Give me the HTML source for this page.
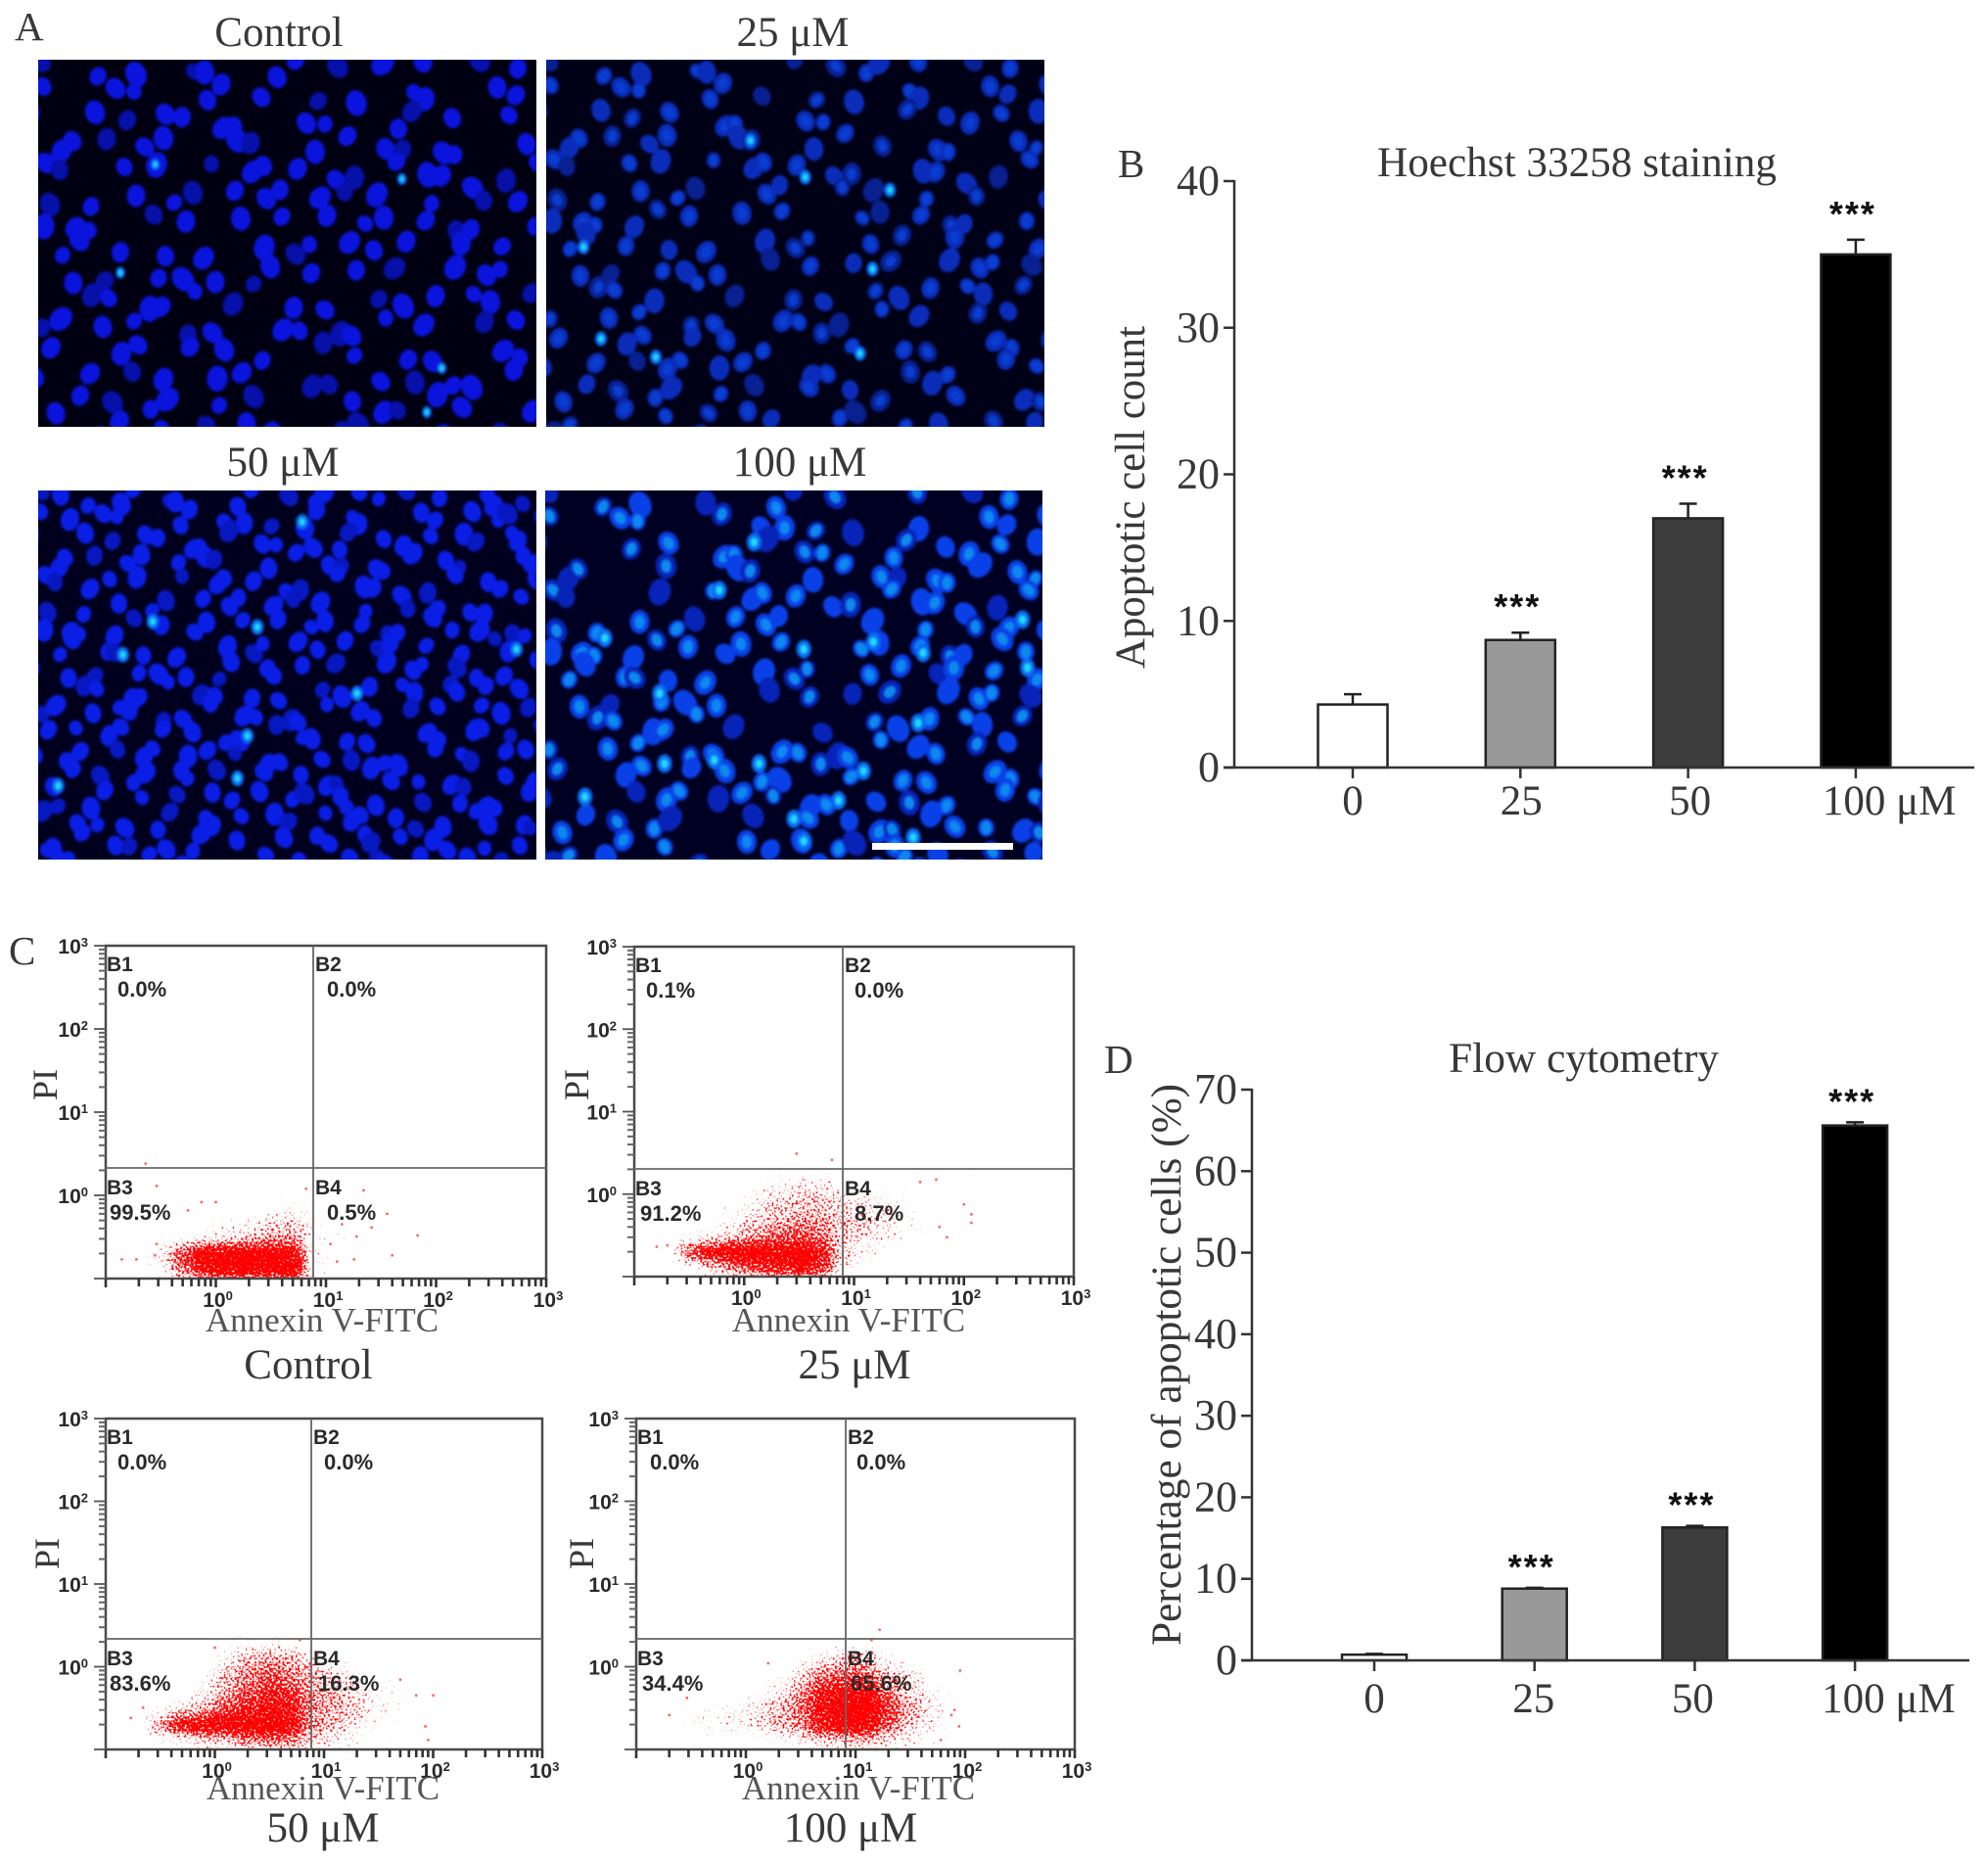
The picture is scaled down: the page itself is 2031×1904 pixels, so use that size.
<!DOCTYPE html>
<html lang="en">
<head>
<meta charset="utf-8">
<title>Apoptosis figure</title>
<style>
html,body{margin:0;padding:0;background:#fff;}
svg{display:block;}
.serif{font-family:"Liberation Serif",serif;fill:#383838;}
.sans{font-family:"Liberation Sans",sans-serif;font-weight:bold;fill:#2a2a2a;}
</style>
</head>
<body>
<svg id="figure" xmlns="http://www.w3.org/2000/svg" width="2031" height="1904" viewBox="0 0 2031 1904">
<defs>
<filter id="soft" x="-5%" y="-5%" width="110%" height="110%" color-interpolation-filters="sRGB"><feGaussianBlur stdDeviation="1.3"/></filter>
<filter id="speckle" x="-20%" y="-30%" width="140%" height="160%" color-interpolation-filters="sRGB">
<feGaussianBlur in="SourceAlpha" stdDeviation="6" result="b0"/>
<feComponentTransfer in="b0" result="b"><feFuncA type="gamma" amplitude="1" exponent="0.7" offset="0"/></feComponentTransfer>
<feTurbulence type="fractalNoise" baseFrequency="0.45" numOctaves="1" seed="7" result="t"/>
<feColorMatrix in="t" type="matrix" values="0 0 0 0 0 0 0 0 0 0 0 0 0 0 0 1 0 0 0 0" result="n"/>
<feComposite in="b" in2="n" operator="arithmetic" k1="0" k2="3.8" k3="6" k4="-4.9" result="m"/>
<feFlood flood-color="#ff0000" result="f"/>
<feComposite in="f" in2="m" operator="in"/>
</filter>
</defs>
<rect x="0" y="0" width="2031" height="1904" fill="#fff"/>

<text class="serif" x="15" y="41" font-size="41">A</text>
<text class="serif" x="1142" y="181" font-size="41">B</text>
<text class="serif" x="9" y="985" font-size="41">C</text>
<text class="serif" x="1128" y="1096" font-size="41">D</text>

<text class="serif" x="285" y="47" font-size="43" text-anchor="middle">Control</text>
<text class="serif" x="810" y="47" font-size="43" text-anchor="middle">25 μM</text>
<text class="serif" x="289" y="486" font-size="43" text-anchor="middle">50 μM</text>
<text class="serif" x="817" y="486" font-size="43" text-anchor="middle">100 μM</text>

<g id="micrographs"></g>
<rect x="891" y="861" width="144" height="7" fill="#fff"/>

<g id="flow"></g>
<g id="hoechst"></g>
<g id="flowbars"></g>
</svg>

<script>
/* ---------- Bar chart data ---------- */
const barCategories = ['0', '25', '50', '100 μM'];
const hoechstValues = [4.3, 8.7, 17, 35];
const hoechstErrors = [0.7, 0.5, 1, 1];
const hoechstTicks = [0, 10, 20, 30, 40];
const hoechstStars = ['', '***', '***', '***'];
const flowValues = [0.7, 8.8, 16.3, 65.6];
const flowErrors = [0.1, 0.1, 0.2, 0.4];
const flowTicks = [0, 10, 20, 30, 40, 50, 60, 70];
const flowStars = ['', '***', '***', '***'];
const barFills = ['#ffffff', '#999999', '#3d3d3d', '#000000'];

/* ---------- Flow cytometry data ---------- */
const annexinBins = [0.126, 0.2, 0.32, 0.5, 0.8, 1.26, 2, 3.2, 5, 8, 12.6, 20, 32, 50, 80, 126];
const piBins = [2, 1.26, 0.8, 0.5, 0.32, 0.2, 0.126];
const decadeTicks = [0.1, 1, 10, 100, 1000];
const decadeExponents = ['-1', '0', '1', '2', '3'];

const densityControl = [
 [0,0,0,0,0,0,0,0,0,0,0,0,0,0,0,0],
 [0,0,0,0,0,0,0,0,0,0,0,0,0,0,0,0],
 [0,0,0,0,0,0,0,0,.1,.1,0,0,0,0,0,0],
 [0,0,0,0,.06,.08,.14,.26,.28,.14,.06,0,0,0,0,0],
 [0,0,0,.08,.14,.22,.32,.42,.42,.16,.06,.04,0,0,0,0],
 [0,0,.25,.65,1,1,1,1,.9,.14,.04,0,0,0,0,0],
 [0,0,.12,.55,.85,1,1,1,1,.16,0,0,0,0,0,0]];
const densityDose25 = [
 [0,0,0,0,0,0,0,.05,.06,0,0,0,0,0,0,0],
 [0,0,0,0,0,.1,.18,.25,.25,.14,.04,0,0,0,0,0],
 [0,0,0,0,.07,.22,.33,.36,.36,.3,.24,.18,.07,0,0,0],
 [0,0,0,.06,.16,.3,.38,.42,.42,.36,.3,.24,.14,.05,0,0],
 [0,0,.08,.14,.3,.4,.55,.62,.52,.34,.28,.22,.12,.04,0,0],
 [0,.1,.65,.9,1,1,1,1,.8,.32,.18,.07,0,0,0,0],
 [0,0,.08,.3,.5,.65,.8,.9,.75,.22,.07,0,0,0,0,0]];
const densityDose50 = [
 [0,0,0,0,0,.04,.08,.14,.08,0,0,0,0,0,0,0],
 [0,0,0,0,0,.18,.38,.42,.38,.24,.08,0,0,0,0,0],
 [0,0,0,0,.08,.38,.5,.6,.5,.42,.28,.14,.05,0,0,0],
 [0,0,0,.05,.24,.4,.6,.75,.65,.46,.38,.28,.14,.07,0,0],
 [0,0,.08,.24,.35,.6,.75,.85,.8,.48,.42,.32,.18,.1,.03,0],
 [0,.08,.5,.85,1,1,1,1,.9,.48,.36,.24,.1,.05,0,0],
 [0,0,.08,.18,.28,.3,.5,.55,.5,.3,.2,.1,.03,0,0,0]];
const densityDose100 = [
 [0,0,0,0,0,0,0,0,0,.03,.06,0,0,0,0,0],
 [0,0,0,0,0,0,0,.08,.22,.34,.34,.18,.04,0,0,0],
 [0,0,0,0,0,.04,.1,.3,.5,.6,.55,.35,.24,.04,0,0],
 [0,0,0,0,.03,.1,.22,.45,.8,.9,.9,.5,.3,.18,.03,0],
 [0,0,.07,.1,.14,.22,.38,.55,.85,1,1,.7,.4,.24,.07,0],
 [0,0,.14,.18,.24,.3,.42,.5,.85,1,.95,.6,.35,.2,.04,0],
 [0,0,0,0,0,.03,.1,.2,.3,.35,.35,.25,.16,.1,0,0]];

const outlierAnnexinControl = [0.23,0.29,0.14,0.19,0.28,0.74,1,0.56,0.29,22,36,68,40,12.6,18,11,19,26,14,6.6];
const outlierPIControl = [2.4,1.3,0.17,0.17,0.19,0.83,0.83,0.66,0.26,1.15,0.6,0.33,0.19,0.16,0.17,0.26,0.32,0.41,0.45,1.2];
const outlierAnnexin25 = [117,117,3,6.3,56,0.32,0.2,0.16,100,70,60,40];
const outlierPI25 = [0.45,0.57,3.1,2.6,1.5,0.53,0.24,0.23,0.75,0.3,0.4,1.4];
const outlierAnnexin50 = [100,85,0.22,50,0.17,90,70,0.34,1,6];
const outlierPI50 = [0.45,0.19,0.32,0.7,0.24,0.13,0.45,0.6,1.7,2.1];
const outlierAnnexin100 = [16.6,90,0.2,88,75,60,0.29,1.6,14,80];
const outlierPI100 = [2.8,0.9,0.26,0.19,0.26,0.13,0.42,1.1,2.1,0.3];

const flowPanelNames = ['control', 'dose-25', 'dose-50', 'dose-100'];
const flowDensities = [densityControl, densityDose25, densityDose50, densityDose100];
const flowOutlierAnnexin = [outlierAnnexinControl, outlierAnnexin25, outlierAnnexin50, outlierAnnexin100];
const flowOutlierPI = [outlierPIControl, outlierPI25, outlierPI50, outlierPI100];
const flowPct = [['0.0%','0.0%','99.5%','0.5%'],['0.1%','0.0%','91.2%','8.7%'],['0.0%','0.0%','83.6%','16.3%'],['0.0%','0.0%','34.4%','65.6%']];
const quadrantNames = ['B1','B2','B3','B4'];
const flowCaptions = ['Control','25 μM','50 μM','100 μM'];

/* ---------- Micrograph brightness maps (coarse) ---------- */
const mapControl = [[6,7,7,6,7,6,7,6],[7,7,6,7,7,8,6,6],[6,6,7,7,8,6,7,7],[7,7,7,7,7,6,7,6],[7,7,7,6,6,7,6,7],[8,8,6,7,5,7,7,6]];
const map25 = [[6,6,6,5,6,7,6,6],[6,7,6,7,7,5,7,6],[6,7,6,6,5,5,7,6],[7,6,7,5,6,6,7,7],[6,7,7,6,6,6,5,6],[7,8,6,6,6,5,6,6]];
const map50 = [[8,8,8,8,9,8,7,8],[8,8,8,8,8,8,8,8],[8,8,8,8,8,9,8,9],[8,8,9,8,8,8,8,8],[9,8,8,8,8,8,8,8],[9,9,8,8,9,9,8,8]];
const map100 = [[5,6,4,8,5,3,6,7],[4,3,7,8,7,8,8,8],[8,7,8,8,3,7,8,9],[7,8,7,4,5,8,8,7],[5,7,8,8,8,7,8,7],[8,8,4,7,9,9,6,8]];
const brightControlX = [.235,.165,.73,.81,.78], brightControlY = [.285,.58,.325,.84,.96];
const bright25X = [.69,.41,.52,.11,.22,.63,.075,.655], bright25Y = [.355,.22,.32,.76,.81,.8,.51,.57];
const bright50X = [.44,.23,.53,.96,.04,.64,.40,.42,.17], bright50Y = [.37,.355,.085,.43,.8,.55,.78,.665,.445];
const bright100X = [.52,.66,.35,.76,.97,.24,.43,.34,.5,.64,.75,.12,.23,.08,.42,.96,.59,.74,.52],
      bright100Y = [.43,.41,.27,.44,.48,.74,.74,.73,.89,.76,.63,.4,.55,.83,.14,.35,.84,.94,.95];

const SVGNS = 'http://www.w3.org/2000/svg';
function make(tag, parent, attrs, text) {
  const node = document.createElementNS(SVGNS, tag);
  for (const k in attrs) node.setAttribute(k, attrs[k]);
  if (text !== undefined) node.textContent = text;
  parent.appendChild(node);
  return node;
}

/* ---------- Bar charts ---------- */
function drawBars(root, opt) {
  const yPos = v => opt.y0 - v * (opt.y0 - opt.yTop) / opt.yMax;
  const xPos = i => opt.x0 + i * opt.step;
  const ink = '#333';

  opt.ticks.forEach(function (t) {
    const tick = make('line', root, {x1: opt.axisX - 11, x2: opt.axisX, y1: yPos(t), y2: yPos(t), stroke: ink, 'stroke-width': 2.5});
    
    
    const label = make('text', root, {x: opt.axisX - opt.labelGap, y: yPos(t) + 14, 'font-size': 44, 'text-anchor': 'end', class: 'serif'}, String(t));
    
    
  });

  opt.values.forEach(function (v, i) {
    const cx = xPos(i);
    const errTop = yPos(v + opt.errors[i]);
    const err = make('line', root, {x1: cx, x2: cx, y1: errTop, y2: yPos(v), stroke: '#222', 'stroke-width': 2.5});
    
    
    const cap = make('line', root, {x1: cx - opt.capW, x2: cx + opt.capW, y1: errTop, y2: errTop, stroke: '#222', 'stroke-width': 2.5});
    
    
    const bar = make('rect', root, {x: cx - opt.barW / 2, y: yPos(v), width: opt.barW, height: opt.y0 - yPos(v), fill: barFills[i], stroke: '#222', 'stroke-width': 2.5});
    
    
    const xt = make('line', root, {x1: cx, x2: cx, y1: opt.y0, y2: opt.y0 + 11, stroke: ink, 'stroke-width': 2.5});
    
    
    const withUnit = barCategories[i].length > 3;
    const xl = make('text', root, {x: withUnit ? cx - 34 : cx + opt.labelShift * i, y: opt.xLabelY, 'font-size': 43, 'text-anchor': withUnit ? 'start' : 'middle', class: 'serif'}, barCategories[i]);
    
    
    if (opt.stars[i]) {
      const star = make('text', root, {x: cx - 3, y: errTop - opt.starGap + 15, 'font-size': 36, 'letter-spacing': 2, 'text-anchor': 'middle', class: 'sans', style: 'fill:#111'}, opt.stars[i]);
      
      
    }
  });

  const yAxis = make('line', root, {x1: opt.axisX, x2: opt.axisX, y1: opt.yTop - 1, y2: opt.y0 + 1, stroke: ink, 'stroke-width': 2.5});
  
  
  const xAxis = make('line', root, {x1: opt.axisX - 11, x2: opt.xEnd, y1: opt.y0, y2: opt.y0, stroke: ink, 'stroke-width': 2.5});
  
  

  const title = make('text', root, {x: opt.titleX, y: opt.titleY, 'font-size': 43, 'text-anchor': 'middle', textLength: opt.titleLen, lengthAdjust: 'spacingAndGlyphs', class: 'serif'}, opt.title);
  
  
  const yTitle = make('text', root, {x: 0, y: 0, transform: 'translate(' + opt.yTitleX + ' ' + opt.yTitleY + ') rotate(-90)', 'font-size': 43, 'text-anchor': 'middle', textLength: opt.yTitleLen, lengthAdjust: 'spacingAndGlyphs', class: 'serif'}, opt.yTitle);
  
  
}

drawBars(document.getElementById('hoechst'), {
  values: hoechstValues, errors: hoechstErrors, ticks: hoechstTicks, stars: hoechstStars, yMax: 40,
  axisX: 1261, y0: 784, yTop: 185, xEnd: 2017, x0: 1382, step: 171.3, barW: 71, capW: 9,
  labelGap: 15, labelShift: 1, xLabelY: 832, starGap: 29,
  title: 'Hoechst 33258 staining', titleX: 1611, titleY: 180, titleLen: 408,
  yTitle: 'Apoptotic cell count', yTitleX: 1169, yTitleY: 508, yTitleLen: 350
});
drawBars(document.getElementById('flowbars'), {
  values: flowValues, errors: flowErrors, ticks: flowTicks, stars: flowStars, yMax: 70,
  axisX: 1279, y0: 1696, yTop: 1113, xEnd: 2012, x0: 1404, step: 163.7, barW: 66, capW: 9,
  labelGap: 15, labelShift: -1, xLabelY: 1749, starGap: 24,
  title: 'Flow cytometry', titleX: 1618, titleY: 1095, titleLen: 276,
  yTitle: 'Percentage of apoptotic cells (%)', yTitleX: 1206, yTitleY: 1394, yTitleLen: 574
});

/* ---------- Flow plots ---------- */
const flowBoxes = [
  {l: 108, t: 966, r: 558, b: 1306, dx: 320, dy: 1193, pct: [120, 334, 112, 334], yTitleX: 58, yTitleY: 1108, labX: 329, labY: 1360, capX: 315, capY: 1408},
  {l: 648, t: 967, r: 1097, b: 1304, dx: 861, dy: 1194, pct: [660, 873, 654, 873], yTitleX: 601, yTitleY: 1108, labX: 867, labY: 1360, capX: 873, capY: 1408},
  {l: 108, t: 1449, r: 554, b: 1787, dx: 318, dy: 1674, pct: [120, 331, 112, 325], yTitleX: 60, yTitleY: 1587, labX: 330, labY: 1838, capX: 330, capY: 1881},
  {l: 650, t: 1449, r: 1098, b: 1787, dx: 864, dy: 1674, pct: [664, 875, 656, 869], yTitleX: 606, yTitleY: 1587, labX: 877, labY: 1838, capX: 869, capY: 1881}
];
const minorSteps = [2, 3, 4, 5, 6, 7, 8, 9];

function drawFlowPanel(root, p, idx) {
  const name = flowPanelNames[idx];
  const box = flowBoxes[idx];
  const g = make('g', root, {});
  
  
  const xPos = v => box.l + (Math.log10(v) + 1) * (box.r - box.l) / 4;
  const yPos = v => box.b - (Math.log10(v) + 1) * (box.b - box.t) / 4;

  const clip = make('clipPath', g, {id: 'clip-' + name});
  make('rect', clip, {x: box.l, y: box.t, width: box.r - box.l, height: box.b - box.t});
  const clipG = make('g', g, {'clip-path': 'url(#clip-' + name + ')'});
  
  
  const density = make('g', clipG, {filter: 'url(#speckle)'});
  const cellW = (box.r - box.l) / 20, cellH = (box.b - box.t) / 20;
  flowDensities[idx].forEach(function (row, r) {
    row.forEach(function (d, c) {
      if (!d) return;
      const cell = make('rect', density, {x: xPos(annexinBins[c]) - cellW / 2, y: yPos(piBins[r]) - cellH / 2, width: cellW, height: cellH, fill: '#f00', 'fill-opacity': d});
      
      
    });
  });
  flowOutlierAnnexin[idx].forEach(function (a, i) {
    const dot = make('circle', clipG, {cx: xPos(a), cy: yPos(flowOutlierPI[idx][i]), r: 1.4, fill: '#f66'});
    
    
  });

  const frame = make('rect', g, {x: box.l, y: box.t, width: box.r - box.l, height: box.b - box.t, fill: 'none', stroke: '#4a4a4a', 'stroke-width': 2.5});
  
  
  const vq = make('line', g, {x1: box.dx, x2: box.dx, y1: box.t, y2: box.b, stroke: '#666', 'stroke-width': 1.8});
  
  
  const hq = make('line', g, {x1: box.l, x2: box.r, y1: box.dy, y2: box.dy, stroke: '#666', 'stroke-width': 1.8});
  
  

  decadeTicks.forEach(function (v, i) {
    const xt = make('line', g, {x1: xPos(v), x2: xPos(v), y1: box.b, y2: box.b + 9, stroke: '#333', 'stroke-width': 2.6});
    
    
    const yt = make('line', g, {x1: box.l - 12, x2: box.l, y1: yPos(v), y2: yPos(v), stroke: '#555', 'stroke-width': 1.8});
    
    
    if (i < decadeTicks.length - 1) {
      minorSteps.forEach(function (m) {
        const mx = make('line', g, {x1: xPos(v * m), x2: xPos(v * m), y1: box.b, y2: box.b + 8, stroke: '#333', 'stroke-width': 2.6});
        
        
        const my = make('line', g, {x1: box.l - 7, x2: box.l, y1: yPos(v * m), y2: yPos(v * m), stroke: '#666', 'stroke-width': 2});
        
        
      });
    }
    if (i > 0) {
      const xl = make('text', g, {x: xPos(v) + 2, y: box.b + 29, 'font-size': 21, 'text-anchor': 'middle', class: 'sans'});
      
      
      make('tspan', xl, {}, '10');
      make('tspan', xl, {dy: -7, 'font-size': 13}, decadeExponents[i]);
      const yl = make('text', g, {x: box.l - 18, y: yPos(v) + 8, 'font-size': 21, 'text-anchor': 'end', class: 'sans'});
      
      
      make('tspan', yl, {}, '10');
      make('tspan', yl, {dy: -7, 'font-size': 13}, decadeExponents[i]);
    }
  });

  quadrantNames.forEach(function (q, i) {
    const left = i % 2 === 0 ? box.l + 1 : box.dx + 2;
    const base = i < 2 ? box.t + 26 : box.dy + 27;
    const qn = make('text', g, {x: left, y: base, 'font-size': 21, class: 'sans'}, q);
    
    
    const pc = make('text', g, {x: box.pct[i], y: base + 26, 'font-size': 22, class: 'sans'}, flowPct[idx][i]);
    
    
  });

  const pi = make('text', g, {x: 0, y: 0, transform: 'translate(' + box.yTitleX + ' ' + box.yTitleY + ') rotate(-90)', 'font-size': 36, 'text-anchor': 'middle', class: 'serif'}, 'PI');
  
  
  const xt = make('text', g, {x: box.labX, y: box.labY, 'font-size': 35, 'text-anchor': 'middle', class: 'serif', style: 'fill:#555'}, 'Annexin V-FITC');
  
  
  const cap = make('text', g, {x: box.capX, y: box.capY, 'font-size': 43, 'text-anchor': 'middle', class: 'serif'}, flowCaptions[idx]);
  
  
}
const flowRoot = document.getElementById('flow');
flowBoxes.forEach(function (b, i) { drawFlowPanel(flowRoot, b, i); });

/* ---------- Micrographs (photographic panels, drawn with vector nuclei) ---------- */
const jitterX = [3, -7, 9, -2, 6, -10, 1, 8, -5, 10, -8, 4, -3];
const jitterY = [-5, 8, 2, -9, 6, -2, 10, -7, 4, -4, 9, -8, 1, 5, -6, 7, -1];
const sizeSteps = [0, 2, -1, 3, 1, -2, 2, 0, 1];
const micrographs = [
  {name: 'control', x: 39, y: 61, w: 509, h: 375, sp: 30, size: 1.12, map: mapControl, bg: '#000012', core: '#0a14dc', dim: '#0710a8', bx: brightControlX, by: brightControlY, inner: null, glow: 0.6},
  {name: 'dose-25', x: 558, y: 61, w: 509, h: 375, sp: 29, size: 1.08, map: map25, bg: '#000016', core: '#0a2cb8', dim: '#082090', bx: bright25X, by: bright25Y, inner: '#0a3ed2', glow: 0.75},
  {name: 'dose-50', x: 39, y: 501, w: 509, h: 377, sp: 25, size: 1.0, map: map50, bg: '#00001e', core: '#0a1ee6', dim: '#0818c0', bx: bright50X, by: bright50Y, inner: null, glow: 0.8},
  {name: 'dose-100', x: 557, y: 501, w: 508, h: 377, sp: 29, size: 1.18, map: map100, bg: '#000022', core: '#0a40e8', dim: '#0824b8', bx: bright100X, by: bright100Y, inner: '#0d88ee', glow: 0.95}
];
const microRoot = document.getElementById('micrographs');
micrographs.forEach(function (m) {
  const g = make('g', microRoot, {});
  
  
  const clip = make('clipPath', g, {id: 'mclip-' + m.name});
  make('rect', clip, {x: m.x, y: m.y, width: m.w, height: m.h});
  const bg = make('rect', g, {x: m.x, y: m.y, width: m.w, height: m.h, fill: m.bg});
  
  
  const cells = make('g', g, {'clip-path': 'url(#mclip-' + m.name + ')'});
  const soft = make('g', cells, {filter: 'url(#soft)'});
  const rows = Math.ceil(m.h / (m.sp * 0.88)) + 1;
  const cols = Math.ceil(m.w / m.sp) + 1;
  for (let r = 0; r < rows; r++) {
    for (let c = 0; c < cols; c++) {
      const cx = m.x + (c + (r % 2) * 0.5) * m.sp + jitterX[(c * 3 + r * 5) % 13];
      const cy = m.y + (r + 0.3) * m.sp * 0.88 + jitterY[(c * 5 + r * 7) % 17];
      const mr = Math.max(0, Math.min(5, Math.floor((cy - m.y) / m.h * 6)));
      const mc = Math.max(0, Math.min(7, Math.floor((cx - m.x) / m.w * 8)));
      const level = m.map[mr][mc];
      if ((c * 7 + r * 11) % 10 > level) continue;
      const s = sizeSteps[(c + r * 2) % 9];
      const scale = m.size;
      const nuc = make('ellipse', soft, {cx: cx, cy: cy, rx: (8 + s * 0.5) * scale, ry: (9.5 + s * 0.8) * scale,
        fill: level >= 6 && (c + r) % 5 ? m.core : m.dim,
        transform: 'rotate(' + ((c * 37 + r * 23) % 90 - 45) + ' ' + cx + ' ' + cy + ')'});
      
      
      if (m.inner && (c * 2 + r) % 3 !== 0) {
        const core = make('ellipse', soft, {cx: cx, cy: cy, rx: 4.5 * scale, ry: 6 * scale, fill: m.inner,
          transform: 'rotate(' + ((c * 37 + r * 23) % 90 - 45) + ' ' + cx + ' ' + cy + ')'});
        
        
      }
    }
  }
  m.bx.forEach(function (fx, i) {
    const hx = m.x + fx * m.w, hy = m.y + m.by[i] * m.h;
    const halo = make('ellipse', soft, {cx: hx, cy: hy, rx: 8 * m.glow, ry: 10 * m.glow, fill: '#0a6cf4'});
    
    
    const spot = make('ellipse', soft, {cx: hx, cy: hy, rx: 4 * m.glow, ry: 5 * m.glow, fill: '#22d8f8'});
    
    
  });
});
</script>
</body>
</html>
